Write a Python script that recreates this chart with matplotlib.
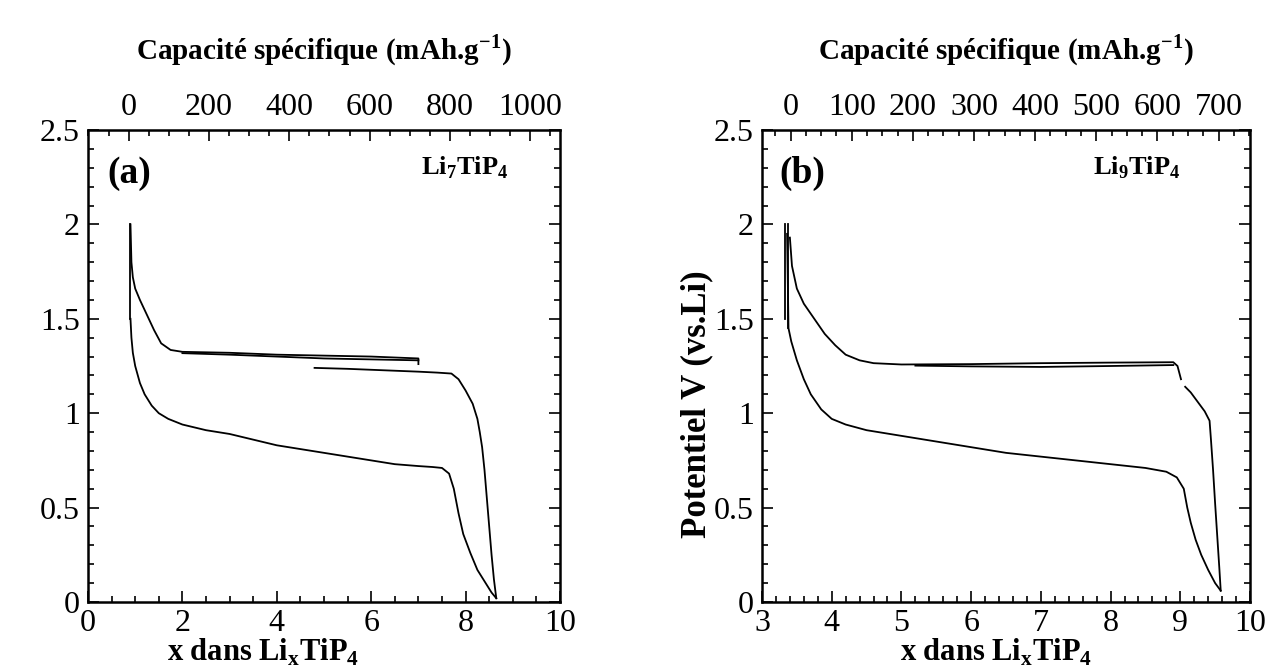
"""
Galvanostatic curves of Li7TiP4 and Li9TiP4 (two panels, capacity on top axis).
"""

import matplotlib
matplotlib.use("Agg")
import matplotlib.pyplot as plt
from matplotlib.ticker import FixedLocator, MultipleLocator

plt.rcParams["font.family"] = ["Liberation Serif", "DejaVu Serif"]
plt.rcParams["mathtext.fontset"] = "custom"
plt.rcParams["mathtext.rm"] = "Liberation Serif"
plt.rcParams["mathtext.bf"] = "Liberation Serif:bold"

# ---- panel (a) Li7TiP4 ----
a_dis_x = [0.9, 0.92, 0.95, 1.0, 1.1, 1.2, 1.35, 1.5, 1.7, 2.0, 2.5, 3.0, 3.5, 4.0, 4.5,
           5.0, 5.5, 6.0, 6.5, 7.0, 7.3, 7.5, 7.65, 7.75, 7.85, 7.95, 8.1, 8.25, 8.4, 8.55, 8.65]
a_dis_v = [1.5, 1.4, 1.32, 1.25, 1.16, 1.1, 1.04, 1.0, 0.97, 0.94, 0.91, 0.89, 0.86, 0.83, 0.81,
           0.79, 0.77, 0.75, 0.73, 0.72, 0.715, 0.71, 0.68, 0.6, 0.47, 0.36, 0.26, 0.17, 0.11, 0.05, 0.02]
a_ch_x = [8.65, 8.6, 8.55, 8.5, 8.45, 8.4, 8.35, 8.3, 8.25, 8.15, 8.0, 7.85, 7.7, 7.4, 7.0, 6.0, 5.5, 4.8]
a_ch_v = [0.02, 0.12, 0.25, 0.4, 0.55, 0.7, 0.82, 0.9, 0.97, 1.05, 1.12, 1.18, 1.21, 1.215, 1.22, 1.23, 1.235, 1.24]
a_up_x = [0.9, 0.92, 0.95, 1.0, 1.1, 1.25, 1.4, 1.55, 1.75, 2.0, 3.0, 4.0, 5.0, 6.0, 7.0, 7.0]
a_up_v = [2.0, 1.8, 1.72, 1.66, 1.6, 1.52, 1.44, 1.37, 1.335, 1.325, 1.32, 1.31, 1.305, 1.3, 1.29, 1.26]
a_up2_x = [2.0, 3.0, 4.0, 5.0, 6.0, 7.0]
a_up2_v = [1.318, 1.31, 1.3, 1.29, 1.285, 1.28]
a_spike_x = [0.9, 0.9]
a_spike_v = [1.5, 2.0]
a_cap_ticks = [0, 200, 400, 600, 800, 1000]

# ---- panel (b) Li9TiP4 ----
b_dis_x = [3.36, 3.38, 3.42, 3.5, 3.6, 3.7, 3.85, 4.0, 4.2, 4.5, 5.0, 5.5, 6.0, 6.5, 7.0, 7.5,
           8.0, 8.5, 8.8, 8.95, 9.05, 9.1, 9.15, 9.22, 9.3, 9.4, 9.5, 9.58]
b_dis_v = [1.95, 1.45, 1.38, 1.28, 1.18, 1.1, 1.02, 0.97, 0.94, 0.91, 0.88, 0.85, 0.82, 0.79, 0.77, 0.75,
           0.73, 0.71, 0.69, 0.66, 0.6, 0.5, 0.42, 0.33, 0.25, 0.17, 0.1, 0.06]
b_ch_x = [9.58, 9.56, 9.53, 9.5, 9.47, 9.44, 9.42, 9.35, 9.25, 9.15, 9.07]
b_ch_v = [0.06, 0.18, 0.35, 0.52, 0.7, 0.86, 0.96, 1.01, 1.06, 1.11, 1.14]
b_up_x = [9.01, 8.96, 8.9, 8.0, 7.0, 6.0, 5.0, 4.6, 4.4, 4.2, 4.05, 3.9, 3.75, 3.6, 3.5, 3.43, 3.4]
b_up_v = [1.18, 1.25, 1.27, 1.268, 1.265, 1.26, 1.258, 1.265, 1.28, 1.31, 1.36, 1.42, 1.5, 1.58, 1.66, 1.78, 1.93]
b_up2_x = [8.9, 8.0, 7.0, 6.0, 5.2]
b_up2_v = [1.255, 1.25, 1.245, 1.248, 1.252]
b_spike1_x = [3.33, 3.33]
b_spike1_v = [1.5, 2.0]
b_spike2_x = [3.37, 3.37]
b_spike2_v = [1.45, 2.0]
b_cap_ticks = [0, 100, 200, 300, 400, 500, 600, 700]

LW = 1.3
TICK_FS = 23
TITLE = r"Capacité spécifique (mAh.g$^{\mathbf{-1}}$)"
XLABEL = r"x dans Li$_\mathbf{x}$TiP$_\mathbf{4}$"


def style_axes(ax, x_minor):
    ax.set_ylim(0, 2.5)
    ax.yaxis.set_major_locator(MultipleLocator(0.5))
    ax.yaxis.set_minor_locator(MultipleLocator(0.1))
    ax.xaxis.set_minor_locator(MultipleLocator(x_minor))
    ax.tick_params(which="both", direction="in", top=False, right=True,
                   labelsize=TICK_FS, width=1.2)
    ax.tick_params(axis="y", pad=6)
    ax.tick_params(axis="x", pad=5)
    ax.tick_params(which="major", length=8)
    ax.tick_params(which="minor", length=4)
    ax.yaxis.set_major_formatter(plt.FuncFormatter(lambda v, p: f"{v:g}"))
    for s in ax.spines.values():
        s.set_linewidth(1.8)


def add_top(ax, x0, scale, ticks, minor):
    top = ax.secondary_xaxis("top", functions=(lambda x: (x - x0) * scale,
                                                lambda c: c / scale + x0))
    top.xaxis.set_major_locator(FixedLocator(ticks))
    top.xaxis.set_minor_locator(MultipleLocator(minor))
    top.tick_params(which="both", direction="in", labelsize=TICK_FS, width=1.2, pad=6)
    top.tick_params(which="major", length=8)
    top.tick_params(which="minor", length=4)
    top.set_xlabel(TITLE, fontsize=21, fontweight="bold", labelpad=24)
    return top


fig = plt.figure(figsize=(12.8, 6.67), dpi=100)
ax1 = fig.add_axes([88 / 1280, 1 - 602 / 667, 472 / 1280, 472 / 667])
ax2 = fig.add_axes([762 / 1280, 1 - 602 / 667, 488 / 1280, 472 / 667])

for xs, vs in [(a_dis_x, a_dis_v), (a_ch_x, a_ch_v), (a_up_x, a_up_v),
               (a_up2_x, a_up2_v), (a_spike_x, a_spike_v)]:
    ax1.plot(xs, vs, color="black", lw=LW)
ax1.set_xlim(0, 10)
ax1.xaxis.set_major_locator(MultipleLocator(2))
style_axes(ax1, 0.5)
add_top(ax1, 0.86, 1000 / 8.51, a_cap_ticks, 50)
ax1.set_xlabel(XLABEL, fontsize=22, fontweight="bold")
ax1.xaxis.set_label_coords(0.37, -0.075)
ax1.text(0.4, 2.27, "(a)", fontsize=27, fontweight="bold", va="center")
ax1.text(8.9, 2.3, r"Li$_\mathbf{7}$TiP$_\mathbf{4}$", fontsize=19, fontweight="bold",
         ha="right", va="center")

for xs, vs in [(b_dis_x, b_dis_v), (b_ch_x, b_ch_v), (b_up_x, b_up_v),
               (b_up2_x, b_up2_v), (b_spike1_x, b_spike1_v), (b_spike2_x, b_spike2_v)]:
    ax2.plot(xs, vs, color="black", lw=LW)
ax2.set_xlim(3, 10)
ax2.xaxis.set_major_locator(MultipleLocator(1))
style_axes(ax2, 0.2)
add_top(ax2, 3.41, 100 / 0.877, b_cap_ticks, 25)
ax2.set_xlabel(XLABEL, fontsize=22, fontweight="bold")
ax2.xaxis.set_label_coords(0.48, -0.075)
ax2.set_ylabel("Potentiel V (vs.Li)", fontsize=25, fontweight="bold")
ax2.yaxis.set_label_coords(-0.1, 0.42)
ax2.text(3.25, 2.27, "(b)", fontsize=27, fontweight="bold", va="center")
ax2.text(9.0, 2.3, r"Li$_\mathbf{9}$TiP$_\mathbf{4}$", fontsize=19, fontweight="bold",
         ha="right", va="center")

fig.savefig("out.png", dpi=100)
